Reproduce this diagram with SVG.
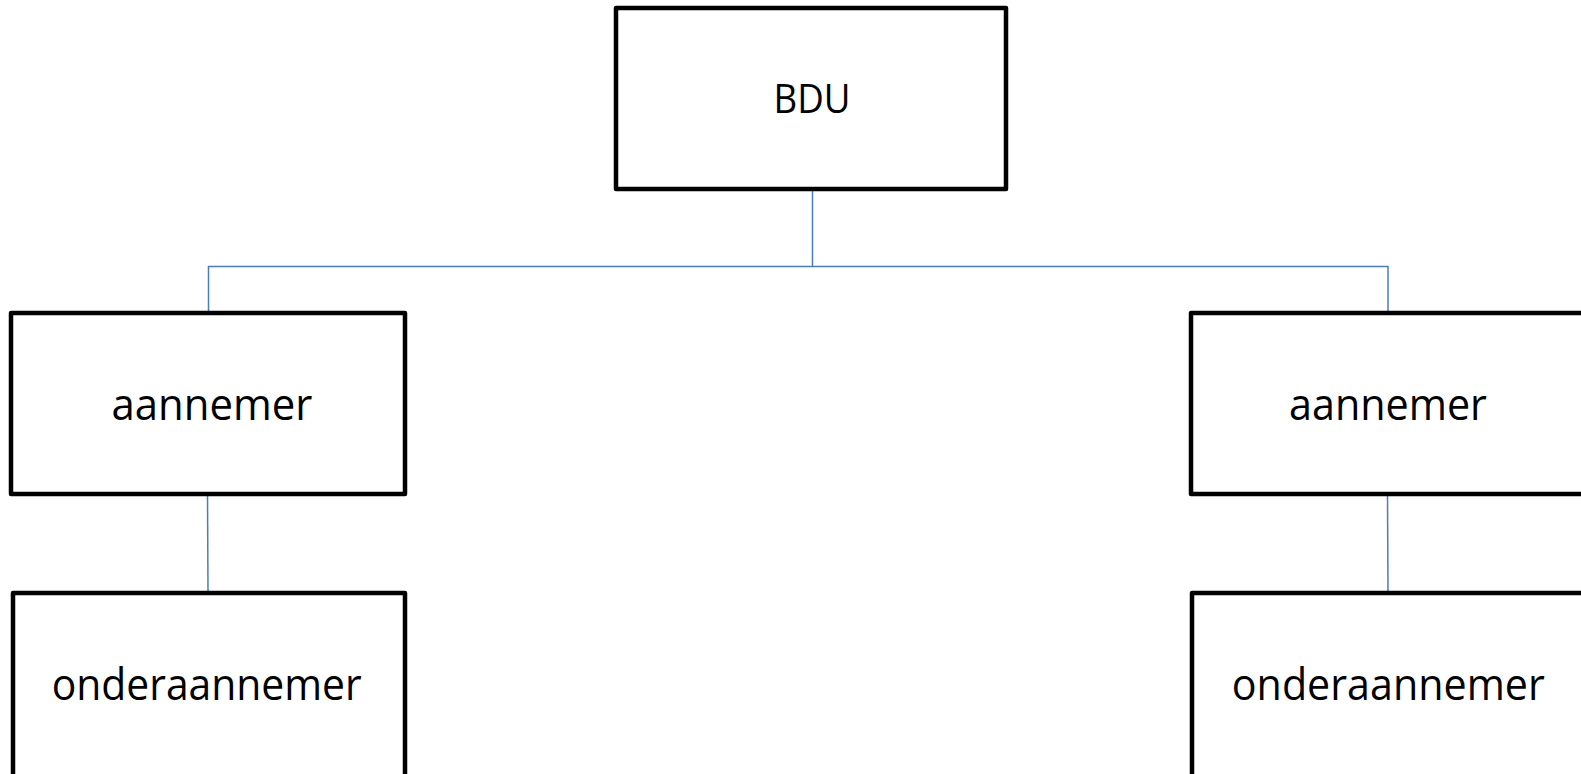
<svg xmlns="http://www.w3.org/2000/svg" width="1581" height="774" viewBox="0 0 1581 774">
<style>
.box{fill:#fff;stroke:#000;stroke-width:4.5;stroke-linejoin:round}
.lbl{font-family:"Open Sans","Liberation Sans",sans-serif;font-size:44px;fill:#000;text-anchor:middle}
.con{fill:none;stroke:#4a7ebb;stroke-width:1.5}
</style>
<rect width="1581" height="774" fill="#fff"/>
<g id="connectors">
<path class="con" d="M812.5 189 V266.5 M208.5 313 V266.5 H1388 V313"/>
<path class="con" d="M207.5 494 L208 593"/>
<path class="con" d="M1387.5 494 L1388 593"/>
</g>
<g id="bdu">
<rect class="box" x="616" y="8" width="390" height="181"/>
<text class="lbl" x="812" y="113" textLength="77" lengthAdjust="spacingAndGlyphs" style="font-size:40px">BDU</text>
</g>
<g id="aannemer-left">
<rect class="box" x="11" y="313" width="394" height="181"/>
<text class="lbl" x="212" y="420" textLength="201" lengthAdjust="spacingAndGlyphs">aannemer</text>
</g>
<g id="onderaannemer-left">
<rect class="box" x="13" y="593" width="392" height="200"/>
<text class="lbl" x="206.7" y="700" textLength="310" lengthAdjust="spacingAndGlyphs">onderaannemer</text>
</g>
<g id="aannemer-right">
<rect class="box" x="1191" y="313" width="394" height="181"/>
<text class="lbl" x="1388" y="420" textLength="198" lengthAdjust="spacingAndGlyphs">aannemer</text>
</g>
<g id="onderaannemer-right">
<rect class="box" x="1192" y="593" width="394" height="200"/>
<text class="lbl" x="1388.3" y="700" textLength="313" lengthAdjust="spacingAndGlyphs">onderaannemer</text>
</g>
</svg>
